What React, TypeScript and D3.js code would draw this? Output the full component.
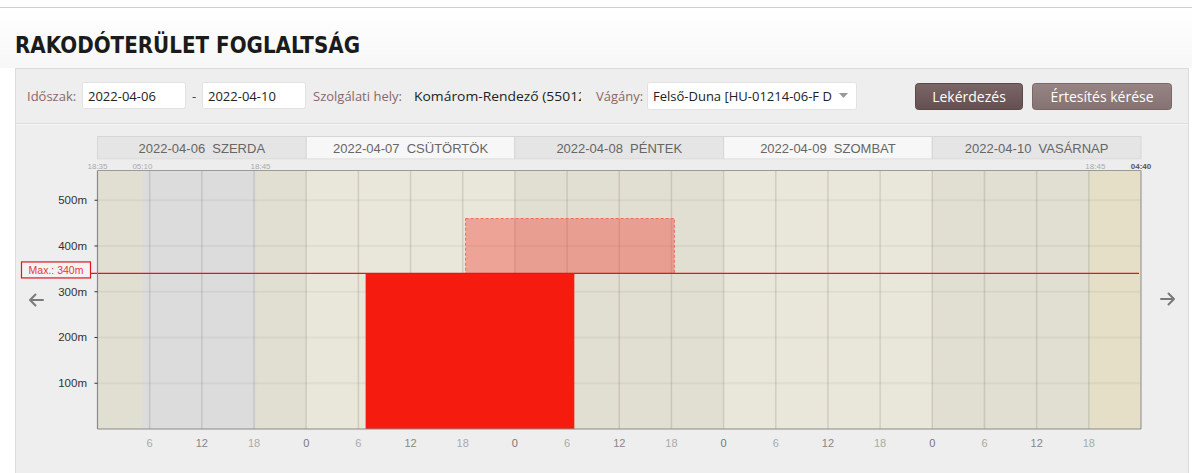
import React from 'react';
import * as d3 from 'd3';

const days = ['2022-04-06', '2022-04-07', '2022-04-08', '2022-04-09', '2022-04-10'];
const dayNames = ['SZERDA', 'CSÜTÖRTÖK', 'PÉNTEK', 'SZOMBAT', 'VASÁRNAP'];
const domainEnd = '2022-04-11 00:00';
const yTicks = [100, 200, 300, 400, 500];
const yMax = 565;
const maxLength = 340;
const occupied = [{ from: '2022-04-07 06:50', to: '2022-04-08 06:50', length: 340 }];
const requested = [{ from: '2022-04-07 18:20', to: '2022-04-08 18:20', base: 340, length: 120 }];
const closedPeriods = [{ from: '2022-04-06 05:10', to: '2022-04-06 18:15' }];
const lateZones = [{ from: '2022-04-10 18:05', to: '2022-04-11 00:00' }];
const timeMarkers = [
  { at: '2022-04-06 00:00', label: '18:35', strong: false },
  { at: '2022-04-06 05:10', label: '05:10', strong: false },
  { at: '2022-04-06 18:45', label: '18:45', strong: false },
  { at: '2022-04-10 18:45', label: '18:45', strong: false },
  { at: '2022-04-11 00:00', label: '04:40', strong: true },
];

const parse = d3.timeParse('%Y-%m-%d %H:%M');
const P = (s: string) => parse(s) as Date;

const W = 1196;
const H = 473;
const plot = { left: 97.5, right: 1141, top: 170.5, bottom: 429 };

const UI = "'Open Sans', 'DejaVu Sans', sans-serif";
const AR = "'Liberation Sans', Arial, sans-serif";

export default function App() {
  const x = d3
    .scaleTime()
    .domain([P(days[0] + ' 00:00'), P(domainEnd)])
    .range([plot.left, plot.right]);
  const y = d3.scaleLinear().domain([0, yMax]).range([plot.bottom, plot.top]);

  const ticks = x.ticks(d3.timeHour.every(6) as any);
  const innerTicks = ticks.slice(1, -1);
  const dayStarts = days.map((d) => P(d + ' 00:00'));
  const dayEnds = days.map((d, i) => (i < days.length - 1 ? P(days[i + 1] + ' 00:00') : P(domainEnd)));

  const tickColor = (h: number) => (h === 0 ? '#777' : h === 12 ? '#888' : '#aaa');

  return (
    <svg width={W} height={H} style={{ position: 'absolute', left: 0, top: 0, background: '#fff' }}>
      <defs>
        <clipPath id="clipHely">
          <rect x={410} y={80} width={171} height={30} />
        </clipPath>
        <clipPath id="clipVag">
          <rect x={650} y={80} width={186} height={30} />
        </clipPath>
        <linearGradient id="btn1" x1="0" y1="0" x2="0" y2="1">
          <stop offset="0" stopColor="#7a6666" />
          <stop offset="1" stopColor="#645050" />
        </linearGradient>
        <linearGradient id="btn2" x1="0" y1="0" x2="0" y2="1">
          <stop offset="0" stopColor="#978585" />
          <stop offset="1" stopColor="#857272" />
        </linearGradient>
        <linearGradient id="pageGrad" x1="0" y1="0" x2="0" y2="1">
          <stop offset="0" stopColor="#ffffff" />
          <stop offset="1" stopColor="#f7f7f7" />
        </linearGradient>
      </defs>

      {/* page */}
      <rect x={0} y={0} width={W} height={H} fill="#fff" />
      <rect x={0} y={8} width={1192} height={60} fill="url(#pageGrad)" />
      <line x1={0} x2={1192} y1={7.5} y2={7.5} stroke="#cfcfcf" />
      <text
        x={15}
        y={53}
        fontFamily="'DejaVu Sans', Verdana, sans-serif"
        fontWeight="bold"
        fontSize={22.5}
        fill="#1b1b1b"
        textLength={345}
        lengthAdjust="spacingAndGlyphs"
      >
        RAKODÓTERÜLET FOGLALTSÁG
      </text>

      {/* panel */}
      <rect x={15.5} y={68.5} width={1173} height={420} fill="#eeeeee" stroke="#dcdcdc" />
      <line x1={16} x2={1188} y1={123.5} y2={123.5} stroke="#dddddd" />
      <line x1={16} x2={1188} y1={124.5} y2={124.5} stroke="#f6f6f6" />

      {/* toolbar */}
      <g fontFamily={UI} fontSize={13}>
        <text x={27} y={101} fill="#8a6767">Időszak:</text>
        <rect x={82.5} y={82.5} width={103} height={26} rx={2} fill="#fff" stroke="#e2e2e2" />
        <text x={88} y={101} fill="#222">2022-04-06</text>
        <text x={192} y={101} fill="#444">-</text>
        <rect x={202.5} y={82.5} width={103} height={26} rx={2} fill="#fff" stroke="#e2e2e2" />
        <text x={208} y={101} fill="#222">2022-04-10</text>
        <text x={313} y={101} fill="#8a6767">Szolgálati hely:</text>
        <g clipPath="url(#clipHely)">
          <text x={414} y={101} fill="#222" textLength={172} lengthAdjust="spacingAndGlyphs">Komárom-Rendező (55012</text>
        </g>
        <text x={596} y={101} fill="#8a6767">Vágány:</text>
        <rect x={647.5} y={82.5} width={209} height={27} rx={2} fill="#fff" stroke="#e2e2e2" />
        <g clipPath="url(#clipVag)">
          <text x={653} y={101} fill="#222">Felső-Duna [HU-01214-06-F D</text>
        </g>
        <path d="M839,93 L848,93 L843.5,98 Z" fill="#999" />
        <rect x={915.5} y={83.5} width={107} height={26} rx={3} fill="url(#btn1)" stroke="#5b4848" />
        <text x={969} y={101.5} fill="#fff" textAnchor="middle" fontSize={14}>Lekérdezés</text>
        <rect x={1032.5} y={83.5} width={139} height={26} rx={3} fill="url(#btn2)" stroke="#7a6868" />
        <text x={1102} y={101.5} fill="#fff" textAnchor="middle" fontSize={14}>Értesítés kérése</text>
      </g>

      {/* day header */}
      {days.map((d, i) => {
        const x0 = x(dayStarts[i]);
        const x1 = x(dayEnds[i]);
        return (
          <g key={d}>
            <rect
              x={x0}
              y={136.5}
              width={x1 - x0}
              height={22.5}
              fill={i % 2 === 0 ? '#e5e5e5' : '#f7f7f7'}
              stroke="#d6d6d6"
            />
            <text
              x={(x0 + x1) / 2}
              y={153}
              textAnchor="middle"
              fontFamily={AR}
              fontSize={13}
              fill="#666"
              style={{ whiteSpace: 'pre' }}
            >
              {d + '  ' + dayNames[i]}
            </text>
          </g>
        );
      })}
      <rect x={plot.left} y={159.5} width={plot.right - plot.left} height={11} fill="#ededed" />

      {/* time markers */}
      {timeMarkers.map((m, i) => (
        <text
          key={i}
          x={x(P(m.at))}
          y={168.5}
          textAnchor="middle"
          fontFamily={AR}
          fontSize={8}
          fill={m.strong ? '#555' : '#aaa'}
          fontWeight={m.strong ? 'bold' : 'normal'}
        >
          {m.label}
        </text>
      ))}

      {/* plot backgrounds */}
      {days.map((d, i) => (
        <rect
          key={d}
          x={x(dayStarts[i])}
          y={plot.top}
          width={x(dayEnds[i]) - x(dayStarts[i])}
          height={plot.bottom - plot.top}
          fill={i % 2 === 0 ? '#e1dfd2' : '#e9e7da'}
        />
      ))}
      {closedPeriods.map((c, i) => (
        <rect
          key={'c' + i}
          x={x(P(c.from))}
          y={plot.top}
          width={x(P(c.to)) - x(P(c.from))}
          height={plot.bottom - plot.top}
          fill="#dcdcdc"
        />
      ))}
      {lateZones.map((c, i) => (
        <rect
          key={'l' + i}
          x={x(P(c.from))}
          y={plot.top}
          width={x(P(c.to)) - x(P(c.from))}
          height={plot.bottom - plot.top}
          fill="#e4dfc6"
        />
      ))}

      {/* grid */}
      {yTicks.map((t) => (
        <line key={'h' + t} x1={plot.left} x2={plot.right} y1={y(t)} y2={y(t)} stroke="rgba(0,0,0,0.045)" strokeWidth={2} />
      ))}
      {innerTicks.map((t, i) => (
        <line
          key={'v' + i}
          x1={x(t)}
          x2={x(t)}
          y1={plot.top}
          y2={plot.bottom}
          stroke="rgba(110,105,80,0.2)"
          strokeWidth={1.5}
        />
      ))}

      {/* requested (over max) */}
      {requested.map((r, i) => (
        <rect
          key={'r' + i}
          x={x(P(r.from))}
          y={y(r.base + r.length)}
          width={x(P(r.to)) - x(P(r.from))}
          height={y(r.base) - y(r.base + r.length)}
          fill="rgba(245,40,25,0.35)"
          stroke="#f2685a"
          strokeDasharray="3,2"
        />
      ))}

      {/* occupied */}
      {occupied.map((o, i) => (
        <rect
          key={'o' + i}
          x={x(P(o.from))}
          y={y(o.length)}
          width={x(P(o.to)) - x(P(o.from))}
          height={plot.bottom - y(o.length)}
          fill="#f51b0f"
        />
      ))}

      {/* max line */}
      <line x1={91} x2={plot.right - 2} y1={y(maxLength)} y2={y(maxLength)} stroke="#e3141a" strokeWidth={1.2} />
      <rect x={21.5} y={y(maxLength) - 11.5} width={69} height={16} fill="#f3f3f3" stroke="#e3141a" strokeWidth={1.2} />
      <text x={56} y={y(maxLength) + 1} textAnchor="middle" fontFamily={AR} fontSize={10.5} fill="#e23a3a">
        {'Max.: ' + maxLength + 'm'}
      </text>

      {/* axes frame */}
      <line x1={plot.left} x2={plot.left} y1={plot.top} y2={plot.bottom} stroke="#8a8a8a" strokeWidth={1.2} />
      <line x1={plot.left} x2={plot.right} y1={plot.bottom} y2={plot.bottom} stroke="#8a8a8a" strokeWidth={1.2} />
      <line x1={plot.right} x2={plot.right} y1={plot.top} y2={plot.bottom} stroke="#9a9a9a" strokeWidth={1.2} />
      <line x1={plot.left} x2={plot.right} y1={plot.top} y2={plot.top} stroke="#9a9a9a" strokeWidth={1.2} />

      {/* y axis */}
      {yTicks.map((t) => (
        <g key={'yt' + t}>
          <line x1={plot.left - 3} x2={plot.left} y1={y(t)} y2={y(t)} stroke="#333" />
          <text x={87} y={y(t) + 4} textAnchor="end" fontFamily={AR} fontSize={11.5} fill="#333">
            {t + 'm'}
          </text>
        </g>
      ))}

      {/* x axis */}
      {innerTicks.map((t, i) => (
        <text
          key={'xt' + i}
          x={x(t)}
          y={447}
          textAnchor="middle"
          fontFamily={AR}
          fontSize={11}
          fill={tickColor(t.getHours())}
        >
          {String(t.getHours())}
        </text>
      ))}

      {/* navigation arrows */}
      <g stroke="#7a7a7a" strokeWidth={2} fill="none" strokeLinecap="round" strokeLinejoin="round">
        <path d="M43,300 L30,300 M35.5,294.5 L30,300 L35.5,305.5" />
        <path d="M1161,299 L1174,299 M1168.5,293.5 L1174,299 L1168.5,304.5" />
      </g>
    </svg>
  );
}
